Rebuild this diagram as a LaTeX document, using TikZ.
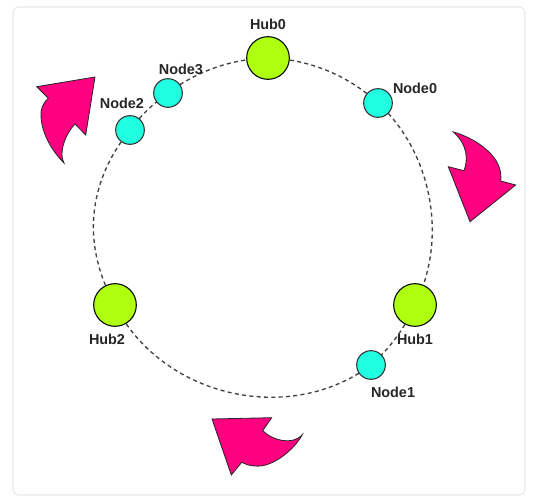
\documentclass[tikz,border=0pt]{standalone}
\usepackage{fontspec}
\setmainfont{Liberation Sans}
\usetikzlibrary{backgrounds}
\definecolor{hubgreen}{RGB}{174,255,16}
\definecolor{nodecyan}{RGB}{32,255,224}
\definecolor{arrowpink}{RGB}{255,0,128}
\definecolor{cardgray}{RGB}{232,232,232}
\definecolor{labelgray}{RGB}{38,38,38}
\tikzset{
    hubnode/.style={circle, draw=black, fill=hubgreen, line width=0.8pt, minimum size=32pt, inner sep=0pt},
    ringnode/.style={circle, draw=black!80, fill=nodecyan, line width=0.8pt, minimum size=21.5pt, inner sep=0pt},
    ringlabel/.style={font=\bfseries\fontsize{10.8}{12}\selectfont, text=labelgray, inner sep=0pt},
    ringlink/.style={line width=1pt, black!75, dash pattern=on 3pt off 2.5pt},
    rotarrow/.style={draw=black!85, fill=arrowpink, line width=0.6pt, line join=miter}
}
\begin{document}
\begin{tikzpicture}[x=0.75pt, y=-0.75pt]
    \useasboundingbox (0,0) rectangle (542,502);

    % Card outline
    \draw[cardgray, line width=0.8pt, rounded corners=4pt] (13,7) rectangle (525,495);

    % Hubs and nodes on the ring
    \node[hubnode] (hub0) at (268,58) {};
    \node[hubnode] (hub1) at (415,305) {};
    \node[hubnode] (hub2) at (115,305) {};
    \node[ringnode] (node0) at (378,103) {};
    \node[ringnode] (node1) at (371,365) {};
    \node[ringnode] (node2) at (130,130) {};
    \node[ringnode] (node3) at (168,93) {};

    % Labels
    \node[ringlabel] (hub0label) at (268,24) {Hub0};
    \node[ringlabel] (hub1label) at (415,339) {Hub1};
    \node[ringlabel] (hub2label) at (107,339) {Hub2};
    \node[ringlabel] (node0label) at (415,88) {Node0};
    \node[ringlabel] (node1label) at (393,392) {Node1};
    \node[ringlabel] (node2label) at (122,103) {Node2};
    \node[ringlabel] (node3label) at (181,69) {Node3};

    % Dashed ring, one arc per neighbour pair
    \begin{pgfonlayer}{background}
        \foreach \from/\to/\bend/\loose in {hub0/node0/20.5/0.88, node0/hub1/37/0.92, hub1/node1/12.5/0.86,
            node1/hub2/50/1.0, hub2/node2/34/1.0, node2/node3/9/0.86, node3/hub0/18/0.87} {
            \draw[ringlink] (\from.center) to[bend left=\bend, looseness=\loose] (\to.center);
        }
    \end{pgfonlayer}

    % Rotation arrow, top left
    \draw[rotarrow] (95,77) -- (36.7,86.7) -- (48.3,98.3)
        .. controls (42,104) and (40.5,110) .. (41,117)
        .. controls (42,134) and (52,151) .. (64,163)
        .. controls (58,153) and (66,133) .. (75,124)
        -- (85.7,135) -- cycle;

    % Rotation arrow, right
    \draw[rotarrow] (453.3,132)
        .. controls (472,137) and (496,152) .. (500,170)
        .. controls (501,174) and (501,178) .. (500.7,181)
        -- (515.7,185) -- (470,221.7) -- (448.3,166.7) -- (464,170.7)
        .. controls (468,160) and (468,145) .. cycle;

    % Rotation arrow, bottom
    \draw[rotarrow] (212,419) -- (271.7,417.7) -- (262.7,430.7)
        .. controls (272,440) and (292,446) .. (302.3,434.7)
        .. controls (294,450) and (272,468) .. (255,466)
        .. controls (250,466) and (245,464) .. (241.7,462.3)
        -- (231.3,475) -- cycle;
\end{tikzpicture}
\end{document}
